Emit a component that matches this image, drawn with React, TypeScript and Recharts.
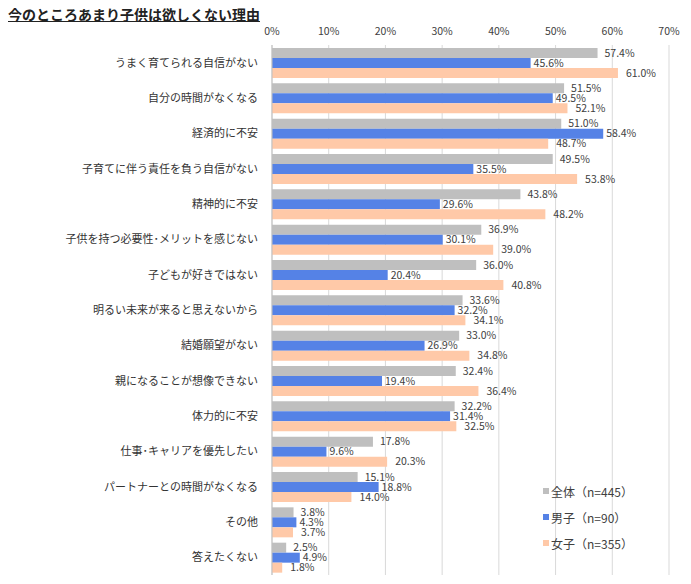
import { BarChart, Bar, XAxis, YAxis, CartesianGrid, Legend, LabelList } from 'recharts';

const categories = [
  'うまく育てられる自信がない',
  '自分の時間がなくなる',
  '経済的に不安',
  '子育てに伴う責任を負う自信がない',
  '精神的に不安',
  '子供を持つ必要性･メリットを感じない',
  '子どもが好きではない',
  '明るい未来が来ると思えないから',
  '結婚願望がない',
  '親になることが想像できない',
  '体力的に不安',
  '仕事･キャリアを優先したい',
  'パートナーとの時間がなくなる',
  'その他',
  '答えたくない',
];

const allValues = [57.4, 51.5, 51.0, 49.5, 43.8, 36.9, 36.0, 33.6, 33.0, 32.4, 32.2, 17.8, 15.1, 3.8, 2.5];
const maleValues = [45.6, 49.5, 58.4, 35.5, 29.6, 30.1, 20.4, 32.2, 26.9, 19.4, 31.4, 9.6, 18.8, 4.3, 4.9];
const femaleValues = [61.0, 52.1, 48.7, 53.8, 48.2, 39.0, 40.8, 34.1, 34.8, 36.4, 32.5, 20.3, 14.0, 3.7, 1.8];

const xTicks = [0, 10, 20, 30, 40, 50, 60, 70];

const series = [
  { key: 'all', name: '全体（n=445）', color: '#BFBFBF', offset: 7 },
  { key: 'male', name: '男子（n=90）', color: '#5582E6', offset: 3 },
  { key: 'female', name: '女子（n=355）', color: '#FFC9A8', offset: 8 },
];

const data = categories.map((name, i) => ({
  name,
  all: allValues[i],
  male: maleValues[i],
  female: femaleValues[i],
}));

const FONT = '"Noto Sans CJK JP", "Noto Sans", sans-serif';

function LegendBox() {
  return (
    <div style={{ fontFamily: FONT, fontSize: 12, color: '#404040' }}>
      {series.map((s) => (
        <div key={s.key} style={{ display: 'flex', alignItems: 'center', height: 26 }}>
          <span style={{ width: 6, height: 6, background: s.color, display: 'inline-block', marginRight: 2 }} />
          {s.name}
        </div>
      ))}
    </div>
  );
}

export default function App() {
  return (
    <div style={{ position: 'absolute', left: 0, top: 0, width: 691, height: 584, background: '#fff' }}>
      <div
        style={{
          position: 'absolute',
          left: 8,
          top: 4,
          fontFamily: FONT,
          fontSize: 14,
          fontWeight: 700,
          color: '#222',
          textDecoration: 'underline',
          zIndex: 2,
        }}
      >
        今のところあまり子供は欲しくない理由
      </div>
      <BarChart
        width={691}
        height={584}
        data={data}
        layout="vertical"
        barSize={10}
        barGap={0}
        margin={{ top: 15, right: 22, bottom: 9, left: 0 }}
        style={{ fontFamily: FONT }}
      >
        <CartesianGrid horizontal={false} stroke="#D9D9D9" />
        <XAxis
          type="number"
          orientation="top"
          domain={[0, 70]}
          ticks={xTicks}
          tickFormatter={(v) => `${v}%`}
          axisLine={false}
          tickLine={false}
          tickSize={8}
          tickMargin={2}
          height={30}
          tick={{ fontSize: 10.5, fill: '#404040' }}
        />
        <YAxis
          type="category"
          dataKey="name"
          width={272}
          axisLine={{ stroke: '#BFBFBF' }}
          tickLine={false}
          tickMargin={8}
          tick={{ fontSize: 11, fill: '#333' }}
          interval={0}
        />
        <Legend
          layout="horizontal"
          verticalAlign="middle"
          align="center"
          content={() => <LegendBox />}
          wrapperStyle={{ left: 543, top: 478, width: 140 }}
        />
        {series.map((s) => (
          <Bar key={s.key} dataKey={s.key} name={s.name} fill={s.color} isAnimationActive={false}>
            <LabelList
              dataKey={s.key}
              position="right"
              offset={s.offset}
              formatter={(v: any) => `${Number(v).toFixed(1)}%`}
              style={{ fontSize: 10.5, fill: '#404040' }}
            />
          </Bar>
        ))}
      </BarChart>
    </div>
  );
}
